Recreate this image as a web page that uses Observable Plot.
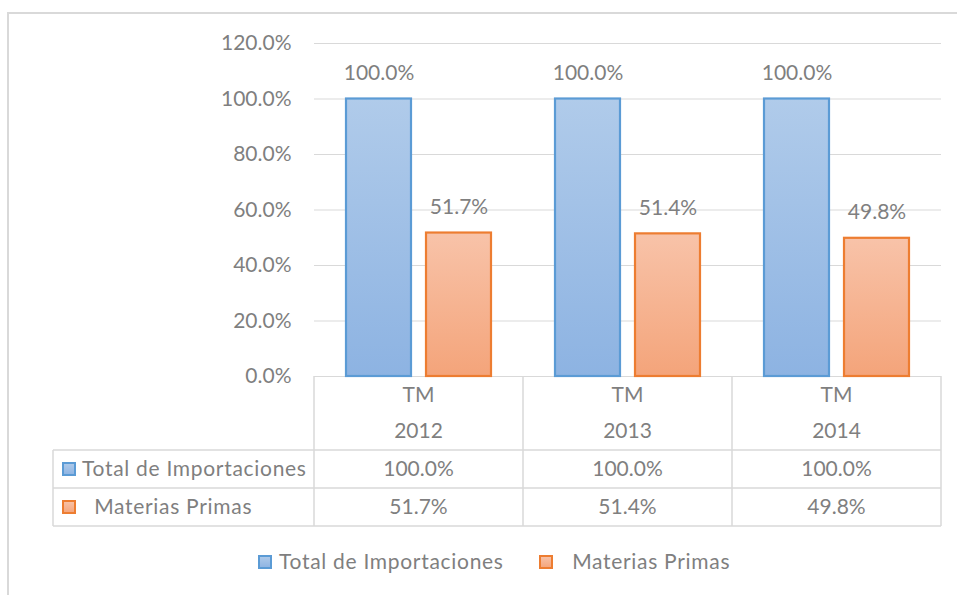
<!DOCTYPE html>
<html><head><meta charset="utf-8">
<script src="https://cdn.jsdelivr.net/npm/d3@7"></script>
<script src="https://cdn.jsdelivr.net/npm/@observablehq/plot@0.6"></script>
<style>
html,body{margin:0;padding:0;background:#fff;}
</style></head><body><div id="chart"></div>
<script>
// ---- data ----
const categories = ["2012", "2013", "2014"];
const categoryPrefix = "TM";
const seriesNames = ["Total de Importaciones", "Materias Primas"];
const tableRowLabels = ["Total de Importaciones", "  Materias Primas"];
const totalImportaciones = [100.0, 100.0, 100.0];
const materiasPrimas = [51.7, 51.4, 49.8];
const yTicks = [0, 20, 40, 60, 80, 100, 120];

const seriesValues = [totalImportaciones, materiasPrimas];
const data = categories.flatMap((c, i) => seriesNames.map((s, k) => ({year: c, series: s, value: seriesValues[k][i]})));
const fmt = v => v.toFixed(1) + "%";

// ---- style ----
const W = 957, H = 595;
const font = "Lato, 'Open Sans', sans-serif";
const fs = 21;
const textColor = "#7f7f7f";
const gridColor = "#d9d9d9";
const fills = ["url(#gradBlue)", "url(#gradOrange)"];
const strokes = ["#5b9bd5", "#ed7d31"];
const gradStops = [["#b0cbea", "#8db3e2"], ["#f8c3a9", "#f4a47a"]];

const plot = Plot.plot({
  width: W, height: H,
  marginLeft: 314, marginRight: 16, marginTop: 43, marginBottom: 219,
  style: {fontFamily: font, fontSize: fs + "px", color: textColor, background: "white", overflow: "visible"},
  fx: {domain: categories, padding: 0, axis: null, label: null},
  x: {domain: seriesNames, paddingInner: 0.1875, paddingOuter: 0.4, axis: null},
  y: {domain: [0, 120], axis: null},
  marks: [
    Plot.gridY(yTicks, {stroke: gridColor, strokeOpacity: 1, strokeWidth: 1}),
    Plot.axisY(yTicks, {tickSize: 0, tickPadding: 23, tickFormat: fmt, fill: textColor, fontSize: fs, label: null}),
    ...seriesNames.map((s, k) => Plot.barY(data.filter(d => d.series === s), {
      fx: "year", x: "series", y: "value", fill: fills[k], stroke: strokes[k], strokeWidth: 2.2
    })),
    Plot.text(data, {fx: "year", x: "series", y: "value", text: d => fmt(d.value), dy: -26, fill: textColor, fontSize: fs})
  ]
});

const svg = d3.select(plot);
// gradients
const defs = svg.insert("defs", ":first-child");
["gradBlue", "gradOrange"].forEach((id, k) => {
  const g = defs.append("linearGradient").attr("id", id).attr("x1", 0).attr("y1", 0).attr("x2", 0).attr("y2", 1);
  g.append("stop").attr("offset", "0%").attr("stop-color", gradStops[k][0]);
  g.append("stop").attr("offset", "100%").attr("stop-color", gradStops[k][1]);
});
// outer chart frame
svg.insert("rect", "defs + *").attr("x", 8).attr("y", 13).attr("width", W + 20).attr("height", H + 20)
  .attr("fill", "none").attr("stroke", gridColor).attr("stroke-width", 2);

// data table under the plot, aligned to the fx scale
const fxs = plot.scale("fx");
const ys = plot.scale("y");
const y0 = ys.apply(0);
const xR = fxs.apply(categories[categories.length - 1]) + fxs.bandwidth;
const tableLeft = 53;
const rowY = [y0 + 74, y0 + 112, y0 + 150];
const tg = svg.append("g").attr("font-family", font).attr("font-size", fs).attr("fill", textColor);
const line = (x1, y1, x2, y2) => tg.append("line").attr("x1", x1).attr("y1", y1).attr("x2", x2).attr("y2", y2)
  .attr("stroke", gridColor).attr("stroke-width", 1.5);
categories.forEach(c => line(fxs.apply(c), y0, fxs.apply(c), rowY[2]));
line(xR, y0, xR, rowY[2]);
line(tableLeft, rowY[0], tableLeft, rowY[2]);
rowY.forEach(y => line(tableLeft, y, xR, y));
categories.forEach((c, i) => {
  const cx = fxs.apply(c) + fxs.bandwidth / 2;
  const t = (y, s) => tg.append("text").attr("x", cx).attr("y", y).attr("text-anchor", "middle").attr("dy", "0.35em").text(s);
  t(y0 + 19, categoryPrefix);
  t(y0 + 55, c);
  seriesValues.forEach((vals, k) => t((rowY[k] + rowY[k + 1]) / 2, fmt(vals[i])));
});
// row headers with swatches
const swatch = (g, x, y, k) => g.append("rect").attr("x", x).attr("y", y).attr("width", 12).attr("height", 12)
  .attr("fill", fills[k]).attr("stroke", strokes[k]).attr("stroke-width", 2);
const leftText = (x, y, s) => tg.append("text").attr("x", x).attr("y", y).attr("dy", "0.35em")
  .attr("text-anchor", "start").attr("letter-spacing", "0.7px").style("white-space", "pre").text(s);
tableRowLabels.forEach((lab, k) => {
  const cy = (rowY[k] + rowY[k + 1]) / 2;
  swatch(tg, 63, cy - 6, k);
  leftText(82, cy, lab);
});
// legend
const legendY = 562;
const legendItems = [{x: 259, k: 0, label: seriesNames[0]}, {x: 540, k: 1, label: "  " + seriesNames[1]}];
legendItems.forEach(it => {
  swatch(tg, it.x, legendY - 6, it.k);
  leftText(it.x + 20, legendY, it.label);
});

document.getElementById("chart").appendChild(plot);
</script>
</body></html>
